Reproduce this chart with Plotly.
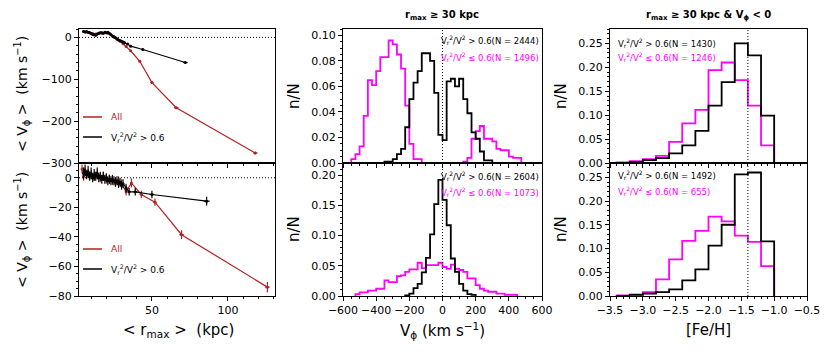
import plotly.graph_objects as go
from plotly.subplots import make_subplots

# ---------------- data ----------------
# Left column, top panel: <V_phi> vs <r_max>
rmax_top_all = [5, 7, 9, 11, 13, 15, 17, 19, 21, 23, 25, 27, 29, 31, 33, 36, 42, 50, 66, 118]
vphi_top_all = [14, 13, 11, 9, 8, 10, 10, 11, 10, 6, 2, -4, -9, -15, -22, -32, -57, -108, -168, -276]
err_top_all = [2, 2, 2, 2, 2, 2, 2, 2, 2, 2, 2, 2, 2, 2, 2, 2, 3, 3, 3, 3]
xerr_top_all = [0, 0, 0, 0, 0, 0, 0, 0, 0, 0, 0, 0, 0, 0, 0, 0.5, 0.5, 1, 1.5, 1.5]

rmax_top_sel = [5, 6, 7, 8, 9, 10, 11, 12, 13, 14, 15, 16, 17, 18, 19, 20, 21, 22, 23, 24,
                25, 26, 27, 28, 29, 30, 31, 32, 34, 36, 44, 72]
vphi_top_sel = [14, 13, 14, 12, 11, 9, 7, 6, 5, 8, 10, 11, 11, 10, 12, 11, 12, 10, 6, 3,
                1, -1, -4, -6, -8, -9, -11, -13, -16, -21, -29, -60]
err_top_sel = [3, 3, 3, 3, 3, 3, 3, 3, 3, 3, 3, 3, 3, 3, 3, 3, 3, 3, 3, 3,
               3, 3, 3, 3, 3, 3, 3, 3, 2, 2, 2, 2]
xerr_top_sel = [0] * 28 + [0.5, 0.5, 1, 1.5]

# Left column, bottom panel
rmax_bot_all = [4, 5, 6, 8, 10, 12, 14, 16, 18, 20, 22, 24, 26, 28, 30, 33, 36.5, 43, 52, 69.5, 126]
vphi_bot_all = [6, 1, 4, 3, 2, 1, 2, 0, 1, -1, -1, -2, -3, -2, -4, -9.5, -3.5, -11.3, -16.5, -38.5, -74]
err_bot_all = [3, 3, 3, 3, 3, 3, 3, 3, 3, 3, 3, 3, 3, 3, 3, 2.5, 3, 2.5, 2.5, 3, 3.5]
xerr_bot_all = [0] * 15 + [0.5, 0.5, 1, 1, 1.5, 1.5]

rmax_bot_sel = [5, 6, 7, 8, 9, 10, 11, 12, 13, 14, 15, 16, 17, 18, 19, 20, 21, 22, 23, 24,
                25, 26, 27, 28, 29, 30, 31, 33, 35, 39, 50, 86]
vphi_bot_sel = [3, 5, 2, 4, 1, 3, 0, 2, 1, 3, 0, 1, -1, 1, -1, 0, -2, -1, -2, -1,
                -2, -3, -2, -4, -3, -5, -4, -7, -9.5, -9.5, -11.3, -15.8]
err_bot_sel = [4, 4, 3, 4, 3, 4, 3, 4, 3, 4, 3, 3, 3, 3, 3, 3, 3, 3, 3, 3,
               3, 3, 3, 3, 3, 3, 3, 3, 2.5, 2.5, 2.5, 3]
xerr_bot_sel = [0] * 28 + [1, 1.5, 1.5, 2]

# Middle column: V_phi histograms (bin width 25 km/s), first bin left edge given
vbin = 25
mid_top_radial_start = -350
mid_top_radial = [0.001, 0.001, 0.003, 0.007, 0.011, 0.028, 0.050, 0.063, 0.072, 0.086, 0.086,
                  0.080, 0.055, 0.022, 0.018, 0.064, 0.066, 0.060, 0.066, 0.050, 0.039, 0.024,
                  0.019, 0.009, 0.002, 0.002]
mid_top_other_start = -550
mid_top_other = [0.003, 0.007, 0.013, 0.037, 0.065, 0.061, 0.072, 0.083, 0.083, 0.096, 0.093,
                 0.085, 0.074, 0.045, 0.015, 0.003, 0.003, 0, 0, 0, 0, 0, 0, 0, 0, 0, 0,
                 0.001, 0.004, 0.019, 0.025, 0.029, 0.019, 0.019, 0.017, 0.011, 0.010, 0.010,
                 0.005, 0.004, 0.004]
mid_bot_radial_start = -225
mid_bot_radial = [0.001, 0.004, 0.013, 0.020, 0.039, 0.063, 0.102, 0.152, 0.192, 0.159, 0.117,
                  0.062, 0.040, 0.020, 0.009, 0.003, 0.002]
mid_bot_other_start = -525
mid_bot_other = [0.003, 0.006, 0.006, 0.009, 0.009, 0.012, 0.012, 0.026, 0.023, 0.023, 0.033,
                 0.034, 0.040, 0.044, 0.044, 0.055, 0.046, 0.051, 0.051, 0.051, 0.055, 0.048,
                 0.045, 0.052, 0.045, 0.043, 0.040, 0.029, 0.029, 0.018, 0.012, 0.009, 0.007,
                 0.007, 0.004, 0.004, 0.002, 0.002, 0.002]

# Right column: [Fe/H] histograms (bin width 0.2), first bin left edge -3.4
fbin = 0.2
feh_start = -3.4
right_top_radial = [0.0, 0.002, 0.006, 0.010, 0.020, 0.037, 0.067, 0.120, 0.169, 0.250, 0.225, 0.099]
right_top_other = [0.001, 0.004, 0.008, 0.015, 0.044, 0.083, 0.111, 0.194, 0.210, 0.173, 0.120, 0.037]
right_bot_radial = [0.0, 0.003, 0.005, 0.008, 0.014, 0.033, 0.056, 0.106, 0.150, 0.256, 0.260, 0.115]
right_bot_other = [0.0015, 0.0015, 0.008, 0.035, 0.077, 0.116, 0.137, 0.167, 0.157, 0.127, 0.114, 0.063]

labels_mid_top = ["V<sub>r</sub><sup>2</sup>/V<sup>2</sup> > 0.6(N = 2444)",
                  "V<sub>r</sub><sup>2</sup>/V<sup>2</sup> ≤ 0.6(N = 1496)"]
labels_mid_bot = ["V<sub>r</sub><sup>2</sup>/V<sup>2</sup> > 0.6(N = 2604)",
                  "V<sub>r</sub><sup>2</sup>/V<sup>2</sup> ≤ 0.6(N = 1073)"]
labels_right_top = ["V<sub>r</sub><sup>2</sup>/V<sup>2</sup> > 0.6(N = 1430)",
                    "V<sub>r</sub><sup>2</sup>/V<sup>2</sup> ≤ 0.6(N = 1246)"]
labels_right_bot = ["V<sub>r</sub><sup>2</sup>/V<sup>2</sup> > 0.6(N = 1492)",
                    "V<sub>r</sub><sup>2</sup>/V<sup>2</sup> ≤ 0.6(N = 655)"]

RED = "#b22222"
MAG = "#ff00ff"
FONT = "DejaVu Sans"
W, H = 830, 356

fig = make_subplots(rows=2, cols=3)


def add_points(r, v, ey, ex, color, row, col):
    fig.add_trace(go.Scatter(
        x=r, y=v, mode="lines+markers",
        line=dict(color=color, width=1.2),
        marker=dict(color=color, size=3),
        error_y=dict(type="data", array=ey, color=color, thickness=1.2, width=0),
        error_x=dict(type="data", array=ex, color=color, thickness=1.2, width=0),
        showlegend=False), row=row, col=col)


def add_step(start, width, vals, color, row, col):
    edges = [start + i * width for i in range(len(vals) + 1)]
    xs = edges + [edges[-1]]
    ys = [0] + list(vals) + [0]
    fig.add_trace(go.Scatter(x=xs, y=ys, mode="lines", line_shape="vh",
                             line=dict(color=color, width=1.8),
                             showlegend=False), row=row, col=col)


add_points(rmax_top_all, vphi_top_all, err_top_all, xerr_top_all, RED, 1, 1)
add_points(rmax_top_sel, vphi_top_sel, err_top_sel, xerr_top_sel, "black", 1, 1)
add_points(rmax_bot_all, vphi_bot_all, err_bot_all, xerr_bot_all, RED, 2, 1)
add_points(rmax_bot_sel, vphi_bot_sel, err_bot_sel, xerr_bot_sel, "black", 2, 1)

add_step(mid_top_other_start, vbin, mid_top_other, MAG, 1, 2)
add_step(mid_top_radial_start, vbin, mid_top_radial, "black", 1, 2)
add_step(mid_bot_other_start, vbin, mid_bot_other, MAG, 2, 2)
add_step(mid_bot_radial_start, vbin, mid_bot_radial, "black", 2, 2)

add_step(feh_start, fbin, right_top_other, MAG, 1, 3)
add_step(feh_start, fbin, right_top_radial, "black", 1, 3)
add_step(feh_start, fbin, right_bot_other, MAG, 2, 3)
add_step(feh_start, fbin, right_bot_radial, "black", 2, 3)

# ---------------- layout ----------------
colx = [(79, 275), (343, 542), (610, 807)]
rowy = [(29, 163), (163, 296)]


def px_x(p):
    return p / W


def px_y(p):
    return 1 - p / H


axis_common = dict(showline=True, linecolor="black", linewidth=1.2, mirror=True,
                   ticks="outside", ticklen=4, tickwidth=1, tickcolor="black",
                   showgrid=False, zeroline=False, tickangle=0, automargin=False,
                   tickfont=dict(family=FONT, size=11, color="black"))

xcfg = [dict(range=[2, 131], tick0=0, dtick=50, minor_dtick=10, fmt=""),
        dict(range=[-600, 600], tick0=0, dtick=200, minor_dtick=50, fmt=""),
        dict(range=[-3.5, -0.5], tick0=-3.5, dtick=0.5, minor_dtick=0.1, fmt=".1f")]
ycfg = {(1, 1): dict(range=[-300, 20], dtick=100, minor_dtick=20, fmt=""),
        (2, 1): dict(range=[-80, 10], dtick=20, minor_dtick=5, fmt=""),
        (1, 2): dict(range=[0, 0.105], dtick=0.02, minor_dtick=0.005, fmt=".2f"),
        (2, 2): dict(range=[0, 0.22], dtick=0.05, minor_dtick=0.01, fmt=".2f"),
        (1, 3): dict(range=[0, 0.28], dtick=0.05, minor_dtick=0.01, fmt=".2f"),
        (2, 3): dict(range=[0, 0.28], dtick=0.05, minor_dtick=0.01, fmt=".2f")}

for row in (1, 2):
    for col in (1, 2, 3):
        idx = (row - 1) * 3 + col
        xc = xcfg[col - 1]
        yc = ycfg[(row, col)]
        xa = dict(axis_common)
        xa.update(domain=[px_x(colx[col - 1][0]), px_x(colx[col - 1][1])],
                  range=xc["range"], tick0=xc["tick0"], dtick=xc["dtick"],
                  tickformat=xc["fmt"], showticklabels=(row == 2),
                  minor=dict(ticks="outside", ticklen=2, tickcolor="black", dtick=xc["minor_dtick"],
                             tick0=xc["tick0"], showgrid=False))
        ya = dict(axis_common)
        ya.update(domain=[px_y(rowy[row - 1][1]), px_y(rowy[row - 1][0])],
                  range=yc["range"], tick0=0, dtick=yc["dtick"], tickformat=yc["fmt"],
                  minor=dict(ticks="outside", ticklen=2, tickcolor="black", dtick=yc["minor_dtick"],
                             tick0=0, showgrid=False))
        fig.layout["xaxis" + ("" if idx == 1 else str(idx))].update(xa)
        fig.layout["yaxis" + ("" if idx == 1 else str(idx))].update(ya)

DOT = dict(color="black", width=1, dash="1px,2px")
shapes = []
# dotted reference lines
for idx in (1, 4):
    s = "" if idx == 1 else str(idx)
    shapes.append(dict(type="line", xref="x" + s + " domain", yref="y" + s,
                       x0=0, x1=1, y0=0, y1=0, line=DOT))
for idx, xv in ((2, 0), (5, 0), (3, -1.4), (6, -1.4)):
    shapes.append(dict(type="line", xref="x" + str(idx), yref="y" + str(idx) + " domain",
                       x0=xv, x1=xv, y0=0, y1=1, line=DOT))

annotations = []
# legends for left panels
for ys in ((117, 137), (249, 269)):
    for yy, color, txt in ((ys[0], RED, "All"),
                           (ys[1], "black", "V<sub>r</sub><sup>2</sup>/V<sup>2</sup> > 0.6")):
        shapes.append(dict(type="line", xref="paper", yref="paper",
                           x0=px_x(83), x1=px_x(102), y0=px_y(yy), y1=px_y(yy),
                           line=dict(color=color, width=1.5)))
        annotations.append(dict(xref="paper", yref="paper", x=px_x(109), y=px_y(yy),
                                xanchor="left", yanchor="middle", showarrow=False, text=txt,
                                font=dict(family=FONT, size=9, color=color)))

# histogram labels
for labels, ytops in ((labels_mid_top, (40, 57)), (labels_mid_bot, (176, 192))):
    for lab, yy, color in ((labels[0], ytops[0], "black"), (labels[1], ytops[1], MAG)):
        annotations.append(dict(xref="paper", yref="paper", x=px_x(541), y=px_y(yy),
                                xanchor="right", yanchor="middle", showarrow=False, text=lab,
                                font=dict(family=FONT, size=8.5, color=color)))
for labels, ytops in ((labels_right_top, (43, 57)), (labels_right_bot, (175, 191))):
    for lab, yy, color in ((labels[0], ytops[0], "black"), (labels[1], ytops[1], MAG)):
        annotations.append(dict(xref="paper", yref="paper", x=px_x(616), y=px_y(yy),
                                xanchor="left", yanchor="middle", showarrow=False, text=lab,
                                font=dict(family=FONT, size=8.5, color=color)))

# titles
annotations.append(dict(xref="paper", yref="paper", x=px_x(442), y=px_y(15), showarrow=False,
                        text="<b>r<sub>max</sub> ≥ 30 kpc</b>", xanchor="center", yanchor="middle",
                        font=dict(family=FONT, size=10, color="black")))
annotations.append(dict(xref="paper", yref="paper", x=px_x(708), y=px_y(15), showarrow=False,
                        text="<b>r<sub>max</sub> ≥ 30 kpc & V<sub>ϕ</sub> < 0</b>",
                        xanchor="center", yanchor="middle",
                        font=dict(family=FONT, size=10, color="black")))

# axis labels
vlab = "< V<sub>ϕ</sub> >  (km s<sup>−1</sup>)"
for yc in (94, 230):
    annotations.append(dict(xref="paper", yref="paper", x=px_x(22), y=px_y(yc), showarrow=False,
                            text=vlab, textangle=-90, xanchor="center", yanchor="middle",
                            font=dict(family=FONT, size=14, color="black")))
for xc in (294, 561):
    for yc in (96, 229):
        annotations.append(dict(xref="paper", yref="paper", x=px_x(xc), y=px_y(yc), showarrow=False,
                                text="n/N", textangle=-90, xanchor="center", yanchor="middle",
                                font=dict(family=FONT, size=15, color="black")))
for xc, txt in ((178, "< r<sub>max</sub> >  (kpc)"), (442, "V<sub>ϕ</sub> (km s<sup>−1</sup>)"),
                (708, "[Fe/H]")):
    annotations.append(dict(xref="paper", yref="paper", x=px_x(xc), y=px_y(330), showarrow=False,
                            text=txt, xanchor="center", yanchor="middle",
                            font=dict(family=FONT, size=15, color="black")))

fig.update_layout(width=W, height=H,
                  margin=dict(l=0, r=0, t=0, b=0, pad=0, autoexpand=False),
                  paper_bgcolor="white", plot_bgcolor="white",
                  font=dict(family=FONT, color="black"),
                  shapes=shapes, annotations=annotations, showlegend=False)

fig.write_html("out.html", config={"displayModeBar": False},
               post_script="document.body.style.margin='0';document.body.style.overflow='hidden';")
